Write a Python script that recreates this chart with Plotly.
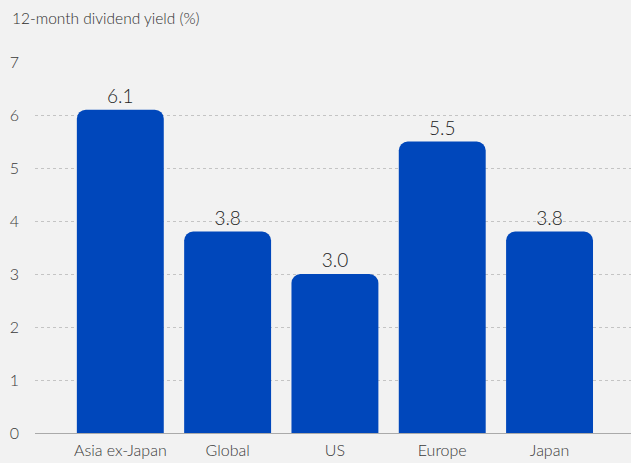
import plotly.graph_objects as go

# Dividend yield by region
regions = ["Asia ex-Japan", "Global", "US", "Europe", "Japan"]
yields = [6.1, 3.8, 3.0, 5.5, 3.8]
y_ticks = [0, 1, 2, 3, 4, 5, 6, 7]

BG = "#f2f2f2"
BAR = "#0047bb"
TEXT = "#3a3a3a"
FONT = "Lato, Noto Sans, sans-serif"

fig = go.Figure(
    go.Bar(
        x=regions,
        y=yields,
        marker=dict(color=BAR, cornerradius=9, line=dict(width=0)),
        text=[f"{v:.1f}" for v in yields],
        textposition="outside",
        textfont=dict(size=19, color="#222222", family=FONT, weight=300),
        cliponaxis=False,
        width=0.81,
    )
)

fig.update_layout(
    width=631,
    height=463,
    paper_bgcolor=BG,
    plot_bgcolor=BG,
    margin=dict(l=35, r=0, t=62, b=30, autoexpand=False),
    font=dict(family=FONT, color=TEXT, size=15, weight=300),
    showlegend=False,
    annotations=[
        dict(
            text="12-month dividend yield (%)",
            xref="paper", yref="paper",
            x=-25 / 596, y=1 + 44 / 371,
            xanchor="left", yanchor="middle",
            showarrow=False,
            font=dict(size=15.5, color="#2e2e2e", family=FONT, weight=300),
        )
    ],
)

fig.update_xaxes(
    type="category",
    range=[-0.795, 4.759],
    automargin=False,
    showgrid=False,
    showline=True,
    linecolor="#aaaaaa",
    linewidth=1,
    ticks="",
    tickfont=dict(size=16, color=TEXT, weight=300),
    ticklabelstandoff=3,
)

fig.update_yaxes(
    range=[0, 7],
    tickvals=y_ticks,
    automargin=False,
    showgrid=True,
    gridcolor="#c4c4c4",
    griddash="dot",
    gridwidth=1,
    zeroline=False,
    showline=False,
    ticks="",
    tickfont=dict(size=16, color=TEXT, weight=300),
    ticklabelstandoff=15,
)

fig.write_html("out.html")
